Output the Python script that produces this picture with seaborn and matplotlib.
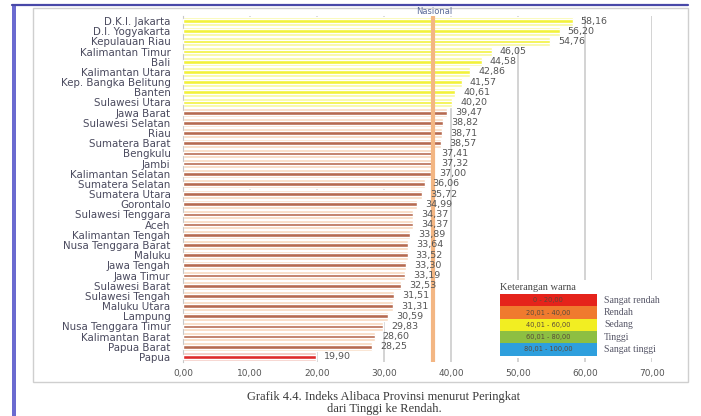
import matplotlib
matplotlib.use("Agg")
import matplotlib.pyplot as plt
from matplotlib.patches import Rectangle
from matplotlib.lines import Line2D
import seaborn as sns
import pandas as pd

# Indeks Alibaca per provinsi, diurutkan dari tertinggi ke terendah
provinsi = [
    "D.K.I. Jakarta", "D.I. Yogyakarta", "Kepulauan Riau", "Kalimantan Timur",
    "Bali", "Kalimantan Utara", "Kep. Bangka Belitung", "Banten",
    "Sulawesi Utara", "Jawa Barat", "Sulawesi Selatan", "Riau",
    "Sumatera Barat", "Bengkulu", "Jambi", "Kalimantan Selatan",
    "Sumatera Selatan", "Sumatera Utara", "Gorontalo", "Sulawesi Tenggara",
    "Aceh", "Kalimantan Tengah", "Nusa Tenggara Barat", "Maluku",
    "Jawa Tengah", "Jawa Timur", "Sulawesi Barat", "Sulawesi Tengah",
    "Maluku Utara", "Lampung", "Nusa Tenggara Timur", "Kalimantan Barat",
    "Papua Barat", "Papua",
]
nilai = [
    58.16, 56.20, 54.76, 46.05, 44.58, 42.86, 41.57, 40.61, 40.20,
    39.47, 38.82, 38.71, 38.57, 37.41, 37.32, 37.00, 36.06, 35.72,
    34.99, 34.37, 34.37, 33.89, 33.64, 33.52, 33.30, 33.19, 32.53,
    31.51, 31.31, 30.59, 29.83, 28.60, 28.25, 19.90,
]
nasional = 37.32
x_ticks = [0, 10, 20, 30, 40, 50, 60, 70]

kelas_rentang = ["0 - 20,00", "20,01 - 40,00", "40,01 - 60,00", "60,01 - 80,00", "80,01 - 100,00"]
kelas_nama = ["Sangat rendah", "Rendah", "Sedang", "Tinggi", "Sangat tinggi"]
kelas_warna = ["#E5231B", "#F07A2E", "#F2EE22", "#8DBF42", "#2E9FDD"]


def fmt(v):
    return f"{v:.2f}".replace(".", ",")


def warna_inti(v):
    if v <= 20:
        return "#DE2A2A"
    if v <= 40:
        return "#B66A50"
    return "#F2F23A"


def warna_tepi(v):
    if v <= 20:
        return "#F5C4BC"
    if v <= 40:
        return "#F8D9BF"
    return "#F8F89C"


df = pd.DataFrame({"provinsi": provinsi, "nilai": nilai})
pal_inti = {p: warna_inti(v) for p, v in zip(provinsi, nilai)}
pal_tepi = {p: warna_tepi(v) for p, v in zip(provinsi, nilai)}

sns.set_style("white")
plt.rcParams["font.family"] = ["DejaVu Sans"]

W, H = 701, 416
fig = plt.figure(figsize=(W / 100, H / 100), dpi=100)


def fx(px):
    return px / W


def fy(py):
    return 1 - py / H


ax = fig.add_axes([fx(183), fy(362), fx(652) - fx(183), fy(16) - fy(362)])

# pale halo behind each bar, then the solid core
sns.barplot(data=df, x="nilai", y="provinsi", hue="provinsi", palette=pal_tepi,
            width=0.9, saturation=1, legend=False, ax=ax, zorder=2)
sns.barplot(data=df, x="nilai", y="provinsi", hue="provinsi", palette=pal_inti,
            width=0.36, saturation=1, legend=False, ax=ax, zorder=3)

ax.set_xlim(0, 70)
ax.set_ylim(len(provinsi) - 0.5, -0.5)
ax.set_xticks(x_ticks)
ax.set_xticklabels([fmt(t) for t in x_ticks], fontsize=6.5, color="#555555")
ax.tick_params(axis="y", labelsize=7.4, labelcolor="#4a4a5e", length=0, pad=9)
ax.tick_params(axis="x", length=3, color="#bbbbbb", pad=2)
ax.set_xlabel("")
ax.set_ylabel("")
ax.grid(axis="x", color="#cccccc", lw=1.2, zorder=1)
ax.set_axisbelow(True)
for s in ["top", "right", "bottom"]:
    ax.spines[s].set_visible(False)
ax.spines["left"].set_color("#c8c8c8")

# national average
ax.axvline(nasional, color="#F3B683", lw=3, zorder=4)
fig.text(fx(434), fy(12), "Nasional", ha="center", va="center",
         fontsize=6, color="#5a6a9a")

for i, v in enumerate(nilai):
    ax.text(v + 1.2, i, fmt(v), va="center", ha="left", fontsize=6.8,
            color="#555555", zorder=5)

# outer frame
fig.add_artist(Rectangle((fx(33), fy(382)), fx(688) - fx(33), fy(8) - fy(382),
                         transform=fig.transFigure, fill=False,
                         edgecolor="#cfcfcf", lw=1.0, zorder=0.5))
fig.add_artist(Line2D([fx(12), fx(688)], [fy(5), fy(5)], transform=fig.transFigure,
                      color="#4848a8", lw=1.6))
fig.add_artist(Rectangle((fx(12), 0), fx(4), fy(5), transform=fig.transFigure,
                         facecolor="#6b6bd0", edgecolor="none"))

# colour key
fig.add_artist(Rectangle((fx(490), fy(358)), fx(682) - fx(490), fy(280) - fy(358),
                         transform=fig.transFigure, facecolor="white",
                         edgecolor="none", zorder=5))
fig.text(fx(500), fy(287), "Keterangan warna", ha="left", va="center",
         fontsize=7.5, color="#444444", family="Liberation Serif", zorder=6)
for k, (r, n, c) in enumerate(zip(kelas_rentang, kelas_nama, kelas_warna)):
    top = 294 + k * 12.3
    fig.add_artist(Rectangle((fx(500), fy(top + 12.3)), fx(597) - fx(500), fy(top) - fy(top + 12.3),
                             transform=fig.transFigure, facecolor=c,
                             edgecolor="none", zorder=6))
    fig.text(fx(548), fy(top + 6.2), r, ha="center", va="center", fontsize=4.8,
             color="#5a4a3a", zorder=7)
    fig.text(fx(604), fy(top + 6.2), n, ha="left", va="center", fontsize=7,
             color="#555566", family="Liberation Serif", zorder=7)

fig.text(fx(384), fy(397), "Grafik 4.4. Indeks Alibaca Provinsi menurut Peringkat",
         ha="center", va="center", fontsize=9, color="#3a3a3a", family="Liberation Serif")
fig.text(fx(384), fy(409), "dari Tinggi ke Rendah.", ha="center", va="center",
         fontsize=9, color="#3a3a3a", family="Liberation Serif")

fig.savefig("out.png", dpi=100)
